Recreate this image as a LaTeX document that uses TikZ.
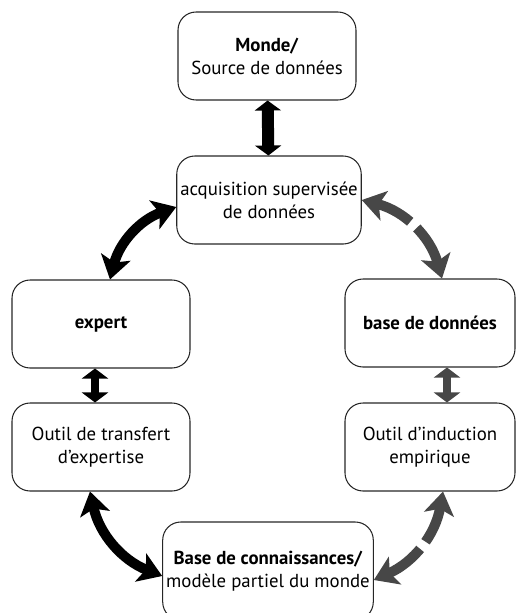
\documentclass[tikz,border=0pt]{standalone}
\usepackage{fontspec}
\setmainfont{PT Sans}
\usetikzlibrary{arrows.meta}

\tikzset{
  box/.style={draw=black!85, line width=0.6pt, rounded corners=0.36cm,
    align=center, inner sep=2pt, font=\fontsize{10.7}{13}\selectfont},
  bigbox/.style={box, minimum width=3.56cm, minimum height=1.76cm},
  sidebox/.style={box, minimum width=3.4cm, minimum height=1.76cm},
  pair/.style={line width=#1, {Triangle[length=0.2cm,width=0.52cm]}-{Triangle[length=0.2cm,width=0.52cm]}},
  swing/.style={line width=0.2cm, {Stealth[length=0.46cm,width=0.6cm,inset=0.11cm]}-{Stealth[length=0.46cm,width=0.6cm,inset=0.11cm]}},
  greyarrow/.style={draw=black!72, fill=black!72},
  broken/.style={dash pattern=on 0.75cm off 0.18cm on 6cm off 0.1cm}
}

\begin{document}
\begin{tikzpicture}[x=0.02cm, y=-0.02cm]
  \useasboundingbox (0,0) rectangle (516,613);
  \draw
    (267,56) node[bigbox] (monde) {\textbf{Monde/}\\Source de données}
    (269,200) node[bigbox] (acq) {acquisition supervisée\\de données}
    (101,324) node[bigbox] (expert) {\textbf{expert}}
    (430,323) node[sidebox] (bdd) {\textbf{base de données}}
    (101,447) node[bigbox] (transfert) {Outil de transfert\\d'expertise}
    (430,447) node[sidebox] (induction) {Outil d'induction\\empirique}
    (268,571) node[box, minimum width=4.06cm, minimum height=1.96cm] (bc) {\textbf{Base de connaissances/}\\modèle partiel du monde};
  % flux experts (gauche)
  \begin{scope}[black]
    \draw[pair=0.24cm] (monde) -- (acq);
    \draw[pair=0.16cm] ([xshift=-0.12cm]expert.south) -- ([xshift=-0.12cm]transfert.north);
    \draw[swing] ([yshift=-0.14cm]acq.west) to[bend right=28] ([xshift=0.18cm]expert.north);
    \draw[swing] ([xshift=-0.22cm]transfert.south) to[bend right=28] ([yshift=-0.1cm]bc.west);
  \end{scope}
  % flux empiriques (droite)
  \begin{scope}[greyarrow]
    \draw[pair=0.16cm] ([xshift=0.34cm]bdd.south) -- ([xshift=0.34cm]induction.north);
    \draw[swing, broken] (acq.east) to[bend left=30] ([xshift=0.24cm]bdd.north);
    \draw[swing, broken] ([xshift=0.26cm]induction.south) to[bend left=28] ([yshift=-0.18cm]bc.east);
  \end{scope}
\end{tikzpicture}
\end{document}
